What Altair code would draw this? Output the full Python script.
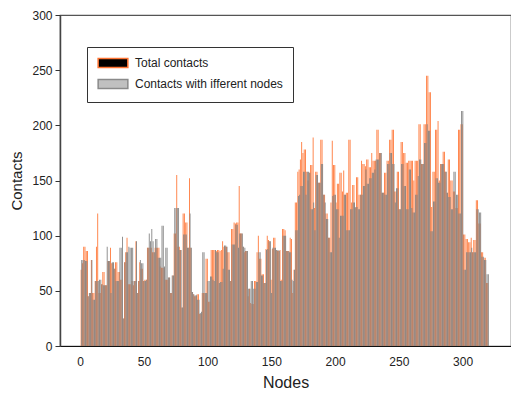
import altair as alt
import pandas as pd

series_names = ["Total contacts", "Contacts with ifferent nodes"]

total = [
    69, 75, 90, 90, 86, 86, 45, 48, 78, 48,
    48, 59, 90, 120, 48, 48, 56, 67, 67, 55,
    55, 77, 77, 89, 75, 75, 70, 76, 76, 67,
    67, 60, 60, 25, 76, 85, 98, 56, 56, 56,
    59, 55, 59, 95, 48, 59, 76, 70, 70, 59,
    60, 60, 89, 89, 89, 89, 85, 85, 89, 89,
    89, 89, 72, 71, 71, 71, 60, 60, 60, 62,
    48, 48, 64, 102, 102, 155, 90, 90, 87, 35,
    120, 120, 112, 112, 89, 152, 89, 49, 47, 45,
    45, 47, 47, 29, 29, 48, 48, 48, 79, 79,
    40, 40, 87, 87, 87, 87, 86, 87, 87, 86,
    87, 95, 90, 90, 90, 85, 85, 59, 106, 106,
    112, 111, 112, 112, 145, 102, 102, 90, 85, 86,
    86, 45, 52, 39, 38, 38, 59, 59, 85, 100,
    79, 79, 65, 65, 57, 88, 100, 96, 95, 60,
    88, 98, 98, 87, 86, 86, 87, 60, 106, 106,
    105, 86, 86, 86, 98, 97, 48, 69, 130, 130,
    158, 160, 169, 185, 175, 178, 178, 158, 150, 157,
    164, 164, 189, 125, 158, 158, 148, 148, 187, 187,
    137, 137, 120, 120, 98, 98, 130, 186, 164, 164,
    130, 147, 147, 157, 157, 140, 159, 137, 139, 139,
    187, 187, 130, 146, 146, 125, 153, 153, 137, 137,
    168, 165, 165, 163, 169, 169, 162, 162, 175, 168,
    168, 168, 196, 196, 175, 175, 139, 139, 157, 157,
    168, 168, 187, 187, 196, 196, 140, 140, 158, 158,
    124, 185, 185, 175, 175, 166, 166, 168, 168, 168,
    168, 150, 168, 168, 168, 201, 201, 165, 165, 201,
    201, 245, 245, 230, 230, 126, 158, 158, 196, 196,
    204, 150, 165, 165, 176, 176, 158, 139, 169, 169,
    150, 150, 140, 140, 125, 125, 196, 196, 201, 201,
    101, 101, 97, 97, 94, 94, 98, 85, 96, 96,
    132, 132, 111, 111, 85, 85, 80, 80, 57, 57,
]

different = [
    78, 78, 78, 77, 77, 45, 48, 48, 78, 42,
    42, 59, 59, 59, 60, 60, 56, 55, 55, 55,
    90, 77, 77, 48, 76, 76, 70, 59, 59, 59,
    89, 89, 99, 25, 76, 85, 85, 90, 89, 89,
    89, 59, 59, 95, 48, 59, 78, 75, 75, 59,
    59, 60, 89, 102, 95, 106, 95, 85, 97, 97,
    80, 80, 80, 109, 109, 72, 89, 89, 62, 62,
    48, 64, 64, 125, 125, 125, 125, 87, 87, 35,
    101, 101, 101, 89, 89, 120, 89, 49, 47, 46,
    46, 42, 42, 30, 31, 85, 85, 48, 48, 59,
    59, 63, 63, 60, 59, 87, 85, 85, 57, 58,
    58, 70, 91, 91, 90, 69, 69, 59, 92, 92,
    92, 110, 110, 89, 102, 102, 102, 90, 89, 86,
    86, 52, 52, 59, 59, 52, 52, 58, 58, 85,
    85, 64, 64, 57, 57, 87, 88, 95, 95, 48,
    89, 89, 89, 87, 87, 86, 59, 59, 100, 100,
    100, 86, 86, 85, 85, 60, 59, 69, 105, 105,
    136, 137, 145, 145, 158, 158, 137, 158, 158, 157,
    124, 124, 130, 105, 155, 155, 148, 148, 165, 165,
    137, 130, 115, 115, 98, 85, 85, 136, 137, 137,
    124, 124, 98, 118, 118, 118, 137, 137, 105, 105,
    105, 124, 124, 130, 130, 126, 126, 124, 124, 137,
    137, 145, 145, 160, 147, 147, 152, 152, 157, 157,
    160, 169, 169, 169, 175, 175, 139, 139, 137, 137,
    165, 165, 175, 175, 165, 165, 130, 143, 143, 124,
    124, 165, 165, 145, 145, 124, 124, 160, 160, 125,
    121, 121, 137, 137, 154, 169, 169, 165, 165, 184,
    184, 201, 195, 195, 104, 104, 131, 131, 152, 152,
    148, 148, 165, 165, 165, 158, 158, 139, 135, 135,
    124, 124, 158, 158, 137, 137, 120, 120, 213, 213,
    69, 69, 85, 85, 85, 85, 89, 85, 85, 85,
    124, 124, 121, 121, 81, 81, 78, 78, 65, 65,
]

nodes = list(range(1, len(total) + 1))

df = pd.concat([
    pd.DataFrame({"node": nodes, "value": total, "series": series_names[0], "shift": -0.22}),
    pd.DataFrame({"node": nodes, "value": different, "series": series_names[1], "shift": 0.22}),
], ignore_index=True)

legend_df = pd.DataFrame({"series": series_names})

FONT = "Arial"
SYMBOL = "M-3.3,-1H3.3V1H-3.3Z"

bars = alt.Chart(df).transform_calculate(
    xpos="datum.node + datum.shift"
).mark_bar(size=0.9, opacity=0.95).encode(
    x=alt.X("xpos:Q",
            scale=alt.Scale(domain=[-15.8, 338], nice=False, zero=False, padding=0),
            axis=alt.Axis(values=[0, 50, 100, 150, 200, 250, 300], title="Nodes",
                          ticks=False, labelPadding=10, titlePadding=7,
                          domainColor="#111", domainWidth=1.2, grid=False,
                          labelFontSize=12, titleFontSize=16)),
    y=alt.Y("value:Q",
            scale=alt.Scale(domain=[0, 300], nice=False, padding=0),
            axis=alt.Axis(values=[0, 50, 100, 150, 200, 250, 300], title="Contacts",
                          tickSize=5, tickColor="#333", labelPadding=3, titlePadding=7,
                          domainColor="#444", domainWidth=1.5, grid=False,
                          labelFontSize=12, titleFontSize=15)),
    color=alt.Color("series:N",
                    scale=alt.Scale(domain=series_names, range=["#FF7433", "#808080"]),
                    legend=None),
    order=alt.Order("shift:Q"),
)

legend_cfg = dict(
    title=None, orient="none", legendX=27, legendY=32,
    direction="vertical", fillColor="white", strokeColor="#333",
    padding=10, rowPadding=5, labelLimit=400,
    labelFontSize=12, labelFont=FONT, labelColor="#222",
    symbolOffset=10, labelOffset=16,
    symbolType=SYMBOL, symbolSize=81,
    symbolStrokeWidth=1.5, symbolOpacity=1,
)

legend_layer = alt.Chart(legend_df).mark_point(
    shape=SYMBOL, filled=True, clip=True, strokeWidth=1.5, opacity=1
).encode(
    x=alt.value(-300),
    y=alt.value(-300),
    fill=alt.Fill("series:N",
                  scale=alt.Scale(domain=series_names, range=["#000000", "#C0C0C0"]),
                  legend=alt.Legend(**legend_cfg)),
    stroke=alt.Stroke("series:N",
                      scale=alt.Scale(domain=series_names, range=["#FF7433", "#8A8A8A"]),
                      legend=alt.Legend(**legend_cfg)),
)

chart = alt.layer(bars, legend_layer).resolve_scale(color="independent").properties(
    width=451, height=331,
    autosize=alt.AutoSizeParams(type="none"),
    padding={"left": 52, "top": 7, "right": 0, "bottom": 47},
).configure_view(
    stroke="#555", strokeWidth=1.2
).configure_axis(
    labelFont=FONT, titleFont=FONT, labelColor="#222", titleColor="#222",
    titleFontWeight="normal",
)

chart.save("out.html", embed_options={"renderer": "svg", "actions": False})
